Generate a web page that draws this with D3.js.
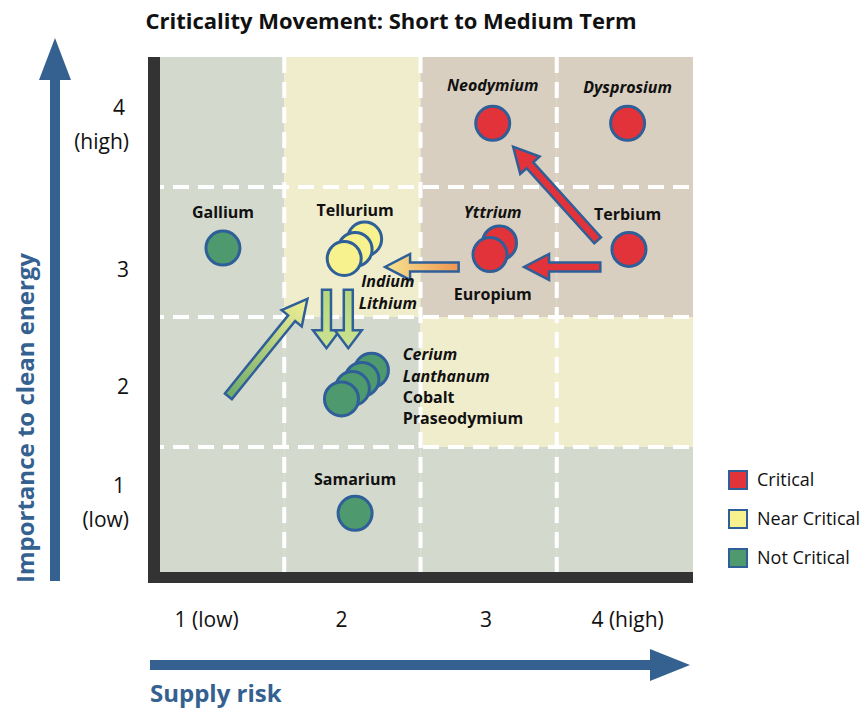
<!DOCTYPE html>
<html>
<head>
<meta charset="utf-8">
<script src="https://cdn.jsdelivr.net/npm/d3@7"></script>
<style>
  html, body { margin: 0; padding: 0; background: #fff; }
  svg text { font-family: "Open Sans", "DejaVu Sans", sans-serif; }
</style>
</head>
<body>
<svg id="chart" width="864" height="709"></svg>
<script>
// ---- data ----
const zoneRows = [            // importance 4 (top) down to 1, supply risk 1..4
  ["not", "near", "crit", "crit"],
  ["not", "near", "crit", "crit"],
  ["not", "not", "near", "near"],
  ["not", "not", "not", "not"]
];
const zoneLevels = [4, 3, 2, 1];

const elements  = ["Neodymium", "Dysprosium", "Terbium", "Yttrium", "Europium", "Gallium",
                   "Tellurium", "Indium", "Lithium",
                   "Cerium", "Lanthanum", "Cobalt", "Praseodymium", "Samarium"];
const supplyRisk = [3.03, 4.02, 4.03, 3.08, 3.01, 1.05, 2.09, 2.02, 1.94, 2.14, 2.07, 2.00, 1.92, 2.02];
const importance = [3.99, 3.99, 3.02, 3.07, 2.98, 3.03, 3.10, 3.02, 2.95, 2.09, 2.02, 1.95, 1.87, 0.99];
const status     = ["crit", "crit", "crit", "crit", "crit", "not",
                    "near", "near", "near", "not", "not", "not", "not", "not"];

// labels: text, x, y (chart units), italic, anchor
const labelText   = ["Neodymium", "Dysprosium", "Gallium", "Tellurium", "Yttrium", "Terbium",
                     "Indium", "Lithium", "Europium", "Cerium", "Lanthanum", "Cobalt", "Praseodymium", "Samarium"];
const labelX      = [3.03, 4.02, 1.05, 2.02, 3.03, 4.02, 2.26, 2.26, 3.03, 2.37, 2.37, 2.37, 2.37, 2.02];
const labelY      = [4.24, 4.22, 3.26, 3.28, 3.26, 3.25, 2.73, 2.56, 2.63, 2.17, 2.00, 1.84, 1.68, 1.21];
const labelItalic = [true, true, false, false, true, false, true, true, false, true, true, false, false, false];
const labelAnchor = ["middle", "middle", "middle", "middle", "middle", "middle", "middle", "middle",
                     "middle", "start", "start", "start", "start", "middle"];

// movement arrows: tail -> tip in chart units
const arrowFromX = [3.80, 3.82, 2.78, 1.09, 1.81, 1.97];
const arrowFromY = [3.09, 2.885, 2.885, 1.89, 2.71, 2.71];
const arrowToX   = [3.18, 3.26, 2.24, 1.67, 1.81, 1.97];
const arrowToY   = [3.81, 2.885, 2.885, 2.64, 2.26, 2.26];
const arrowFill  = ["red", "red", "orange", "greenUp", "greenDown", "greenDown"];

const xTickText = ["1 (low)", "2", "3", "4 (high)"];
const xTickAt   = [0.93, 1.92, 2.98, 4.02];
const yTickText = [["4", "(high)"], ["3"], ["2"], ["1", "(low)"]];
const yTickAt   = [3.98, 2.86, 1.96, 1.07];

const legendKeys   = ["crit", "near", "not"];
const legendLabels = ["Critical", "Near Critical", "Not Critical"];

// ---- styles ----
const zoneColor = {crit: "#d9cfc0", near: "#f0edcc", not: "#d4d9cd"};
const dotColor  = {crit: "#e2323a", near: "#f7f18e", not: "#4e9a6e"};
const blue = "#2f5f98", axisBlue = "#34618f", barColor = "#333333";

const svg = d3.select("#chart");
const x = d3.scaleLinear().domain([0.5, 4.5]).range([148, 693]);
const y = d3.scaleLinear().domain([0.5, 4.5]).range([577, 57]);

// gradient stops for arrows
const gradStops = {
  orange:    ["#ee9550", "#f6e592"],
  greenUp:   ["#6faa6a", "#f4f197"],
  greenDown: ["#b4d67e", "#cde391"]
};
const defs = svg.append("defs");

// ---- title ----
svg.append("text")
  .attr("x", 391).attr("y", 29)
  .attr("text-anchor", "middle")
  .attr("font-size", 22).attr("font-weight", "bold").attr("fill", "#111")
  .text("Criticality Movement: Short to Medium Term");

// ---- zone cells ----
const cells = [];
zoneRows.forEach((row, r) => row.forEach((z, c) => cells.push({risk: c + 1, imp: zoneLevels[r], z})));
svg.append("g").selectAll("rect").data(cells).join("rect")
  .attr("x", d => x(d.risk - 0.5))
  .attr("y", d => y(d.imp + 0.5))
  .attr("width", d => x(d.risk + 0.5) - x(d.risk - 0.5))
  .attr("height", d => y(d.imp - 0.5) - y(d.imp + 0.5))
  .attr("fill", d => zoneColor[d.z]);

// dashed grid
const grid = svg.append("g").attr("stroke", "#fff").attr("stroke-width", 4).attr("stroke-dasharray", "16 9");
[1.5, 2.5, 3.5].forEach(v => {
  grid.append("line").attr("x1", x(v)).attr("x2", x(v)).attr("y1", y(4.5)).attr("y2", y(0.5));
  grid.append("line").attr("x1", x(0.5)).attr("x2", x(4.5)).attr("y1", y(v)).attr("y2", y(v));
});

// black axis bars
svg.append("rect").attr("x", x(0.5)).attr("y", y(4.5)).attr("width", 12).attr("height", y(0.5) - y(4.5) + 6)
  .attr("fill", barColor);
svg.append("rect").attr("x", x(0.5)).attr("y", y(0.5) - 5).attr("width", x(4.5) - x(0.5)).attr("height", 11)
  .attr("fill", barColor);

// ---- arrows ----
function arrowPath(x1, y1, x2, y2, sw, hw, hl) {
  const dx = x2 - x1, dy = y2 - y1, len = Math.hypot(dx, dy);
  const ux = dx / len, uy = dy / len, nx = -uy, ny = ux;
  const bx = x2 - ux * hl, by = y2 - uy * hl;
  const pts = [
    [x1 + nx * sw, y1 + ny * sw], [bx + nx * sw, by + ny * sw], [bx + nx * hw, by + ny * hw],
    [x2, y2],
    [bx - nx * hw, by - ny * hw], [bx - nx * sw, by - ny * sw], [x1 - nx * sw, y1 - ny * sw]
  ];
  return "M" + pts.map(p => p.join(",")).join("L") + "Z";
}
const arrows = arrowFromX.map((v, i) => ({
  x1: x(v), y1: y(arrowFromY[i]), x2: x(arrowToX[i]), y2: y(arrowToY[i]), fill: arrowFill[i], i
}));
arrows.filter(a => a.fill !== "red").forEach(a => {
  // gradient running along each arrow, tail -> tip
  const g = defs.append("linearGradient").attr("id", "ga" + a.i)
    .attr("gradientUnits", "userSpaceOnUse")
    .attr("x1", a.x1).attr("y1", a.y1).attr("x2", a.x2).attr("y2", a.y2);
  gradStops[a.fill].forEach((c, k, all) =>
    g.append("stop").attr("offset", k / (all.length - 1)).attr("stop-color", c));
});
svg.append("g").selectAll("path").data(arrows).join("path")
  .attr("d", a => a.fill === "greenDown"
    ? arrowPath(a.x1, a.y1, a.x2, a.y2, 4.5, 13.5, 18)
    : arrowPath(a.x1, a.y1, a.x2, a.y2, 4.5, 13, 25))
  .attr("fill", a => a.fill === "red" ? "#e2323a" : `url(#ga${a.i})`)
  .attr("stroke", blue).attr("stroke-width", 2.5).attr("stroke-linejoin", "miter");

// ---- dots ----
svg.append("g").selectAll("circle").data(elements).join("circle")
  .attr("cx", (d, i) => x(supplyRisk[i]))
  .attr("cy", (d, i) => y(importance[i]))
  .attr("r", 17)
  .attr("fill", (d, i) => dotColor[status[i]])
  .attr("stroke", blue).attr("stroke-width", 3);

// ---- element labels ----
svg.append("g").selectAll("text").data(labelText).join("text")
  .attr("x", (d, i) => x(labelX[i]))
  .attr("y", (d, i) => y(labelY[i]))
  .attr("text-anchor", (d, i) => labelAnchor[i])
  .attr("font-size", 16).attr("font-weight", "bold")
  .attr("font-style", (d, i) => labelItalic[i] ? "italic" : "normal")
  .attr("fill", "#111")
  .text(d => d);

// ---- tick labels ----
svg.append("g").selectAll("text").data(xTickText).join("text")
  .attr("x", (d, i) => x(xTickAt[i])).attr("y", 627)
  .attr("text-anchor", "middle").attr("font-size", 21).attr("fill", "#111")
  .text(d => d);

const yt = svg.append("g").selectAll("text").data(yTickText).join("text")
  .attr("text-anchor", "end").attr("font-size", 21).attr("fill", "#111");
yt.each(function (lines, i) {
  const cy = y(yTickAt[i]);
  const off = (lines.length - 1) * 34 / 2;
  d3.select(this).selectAll("tspan").data(lines).join("tspan")
    .attr("x", (l, j) => j === 0 && lines.length > 1 ? 125 : 129)
    .attr("y", (l, j) => cy - off + j * 34 + 7)
    .text(l => l);
});

// ---- axis arrows + titles ----
svg.append("path")
  .attr("d", arrowPath(x(0.5) + 2, 665, 690, 665, 5, 16, 40))
  .attr("fill", axisBlue);
svg.append("text")
  .attr("x", 150).attr("y", 702)
  .attr("font-size", 24).attr("font-weight", "bold").attr("fill", axisBlue)
  .text("Supply risk");

svg.append("path")
  .attr("d", arrowPath(55, 581, 55, 38, 5, 16, 42))
  .attr("fill", axisBlue);
svg.append("text")
  .attr("transform", "translate(34,418) rotate(-90)")
  .attr("text-anchor", "middle")
  .attr("font-size", 24).attr("font-weight", "bold").attr("fill", axisBlue)
  .text("Importance to clean energy");

// ---- legend ----
const legend = svg.append("g").selectAll("g").data(legendKeys).join("g")
  .attr("transform", (d, i) => `translate(729,${471 + i * 39})`);
legend.append("rect")
  .attr("width", 18).attr("height", 18)
  .attr("fill", d => dotColor[d])
  .attr("stroke", blue).attr("stroke-width", 2);
legend.append("text")
  .attr("x", 28).attr("y", 15)
  .attr("font-size", 18).attr("fill", "#111")
  .text((d, i) => legendLabels[i]);
</script>
</body>
</html>
